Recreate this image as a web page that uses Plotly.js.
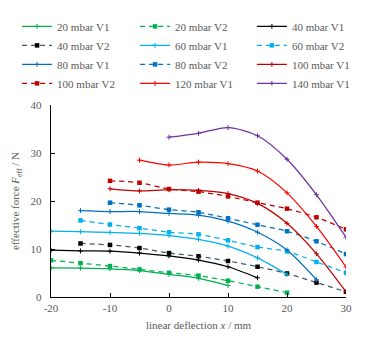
<!DOCTYPE html>
<html>
<head>
<meta charset="utf-8">
<script src="https://cdn.plot.ly/plotly-3.0.1.min.js"></script>
<style>html,body{margin:0;padding:0;background:#fff;}#chart{width:371px;height:339px;}</style>
</head>
<body>
<div id="chart"></div>
<script>
// x positions (linear deflection, mm)
const xFromM20to10 = [-20, -15, -10, -5, 0, 5, 10];
const xFromM20to20 = [-20, -15, -10, -5, 0, 5, 10, 15, 20];
const xFromM20to15 = [-20, -15, -10, -5, 0, 5, 10, 15];
const xFromM15to30 = [-15, -10, -5, 0, 5, 10, 15, 20, 25, 30];
const xFromM15to25 = [-15, -10, -5, 0, 5, 10, 15, 20, 25];
const xFromM10to30 = [-10, -5, 0, 5, 10, 15, 20, 25, 30];
const xFromM5to30 = [-5, 0, 5, 10, 15, 20, 25, 30];
const xFrom0to30 = [0, 5, 10, 15, 20, 25, 30];

// effective force values (N)
const f20V1 = [6.05, 6.0, 5.85, 5.5, 4.7, 3.9, 2.4];
const f20V2 = [7.65, 7.05, 6.45, 5.75, 5.05, 4.45, 3.4, 2.15, 0.9];
const f40V1 = [9.75, 9.6, 9.55, 9.15, 8.55, 7.7, 6.3, 4.0];
const f40V2 = [11.15, 10.85, 10.2, 9.15, 8.5, 7.5, 6.3, 4.9, 3.0, 1.1];
const f60V1 = [13.7, 13.6, 13.45, 13.25, 12.8, 12.0, 10.6, 8.15, 4.7];
const f60V2 = [15.95, 15.1, 14.35, 13.5, 13.05, 11.8, 10.4, 9.5, 7.3, 5.05];
const f80V1 = [18.0, 17.8, 17.8, 17.4, 17.05, 15.8, 13.5, 9.8, 3.6];
const f80V2 = [19.65, 19.1, 18.2, 17.65, 16.4, 15.05, 13.7, 11.6, 8.95];
const f100V1 = [22.55, 22.1, 22.35, 22.2, 21.55, 19.5, 15.35, 9.0, 1.1];
const f100V2 = [24.2, 23.8, 22.5, 21.95, 20.95, 19.65, 18.4, 16.6, 14.1];
const f120V1 = [28.5, 27.5, 28.1, 27.8, 26.25, 21.7, 14.7, 6.25];
const f140V1 = [33.3, 34.1, 35.3, 33.6, 28.7, 21.3, 12.45];

const names = ['20 mbar V1', '20 mbar V2', '40 mbar V1', '40 mbar V2', '60 mbar V1', '60 mbar V2',
  '80 mbar V1', '80 mbar V2', '100 mbar V1', '100 mbar V2', '120 mbar V1', '140 mbar V1'];

const xTickVals = [-20, -10, 0, 10, 20, 30];
const xTickText = ['-20', '-10', '0', '10', '20', '30'];
const yTickVals = [0, 10, 20, 30, 40];
const yTickText = ['0', '10', '20', '30', '40'];

const DASH = '5px,4px';
// legend column of each entry (row-major, three columns)
function legendOf(i) { const c = i % 3; return c === 0 ? 'legend' : (c === 1 ? 'legend2' : 'legend3'); }
function v1(i, x, y, color) {
  return {x: x, y: y, name: names[i], legend: legendOf(i), legendgroup: 'g' + i,
    type: 'scatter', mode: 'lines+markers',
    line: {color: color, width: 1.25, shape: 'spline', smoothing: 0.8},
    marker: {symbol: 'cross-thin', size: 3.5, line: {color: color, width: 1}, color: color}};
}
function v2(i, x, y, color, mcolor) {
  return {x: x, y: y, name: names[i], legend: legendOf(i), legendgroup: 'g' + i,
    type: 'scatter', mode: 'lines+markers',
    line: {color: color, width: 1.25, dash: DASH, shape: 'spline', smoothing: 0.8},
    marker: {symbol: 'square', size: 4.5, color: mcolor || color}};
}

const data = [
  v1(0, xFromM20to10, f20V1, '#00B050'),
  v2(1, xFromM20to20, f20V2, '#00B050'),
  v1(2, xFromM20to15, f40V1, '#000000'),
  v2(3, xFromM15to30, f40V2, '#44546A', '#000000'),
  v1(4, xFromM20to20, f60V1, '#00B0F0'),
  v2(5, xFromM15to30, f60V2, '#00B0F0'),
  v1(6, xFromM15to25, f80V1, '#0070C0'),
  v2(7, xFromM10to30, f80V2, '#0070C0'),
  v1(8, xFromM10to30, f100V1, '#C00000'),
  v2(9, xFromM10to30, f100V2, '#C00000'),
  v1(10, xFromM5to30, f120V1, '#FF0000'),
  v1(11, xFrom0to30, f140V1, '#7030A0')
];

const FONT = '"Liberation Serif", serif';
function legendAt(xp) {
  return {orientation: 'v', xref: 'paper', yref: 'paper', x: xp, y: 1.485,
    xanchor: 'left', yanchor: 'top', tracegroupgap: 0, itemwidth: 30,
    font: {family: FONT, size: 11, color: '#595959'}, bgcolor: 'rgba(0,0,0,0)'};
}
const layout = {
  width: 371, height: 339,
  margin: {l: 51, r: 25, t: 103, b: 42, pad: 0},
  paper_bgcolor: '#ffffff', plot_bgcolor: '#ffffff',
  font: {family: FONT, size: 11, color: '#595959'},
  showlegend: true,
  legend: legendAt(-0.115),
  legend2: legendAt(0.285),
  legend3: legendAt(0.681),
  xaxis: {range: [-20, 30], tickvals: xTickVals, ticktext: xTickText, showgrid: false, zeroline: false,
    showline: true, linecolor: '#000000', linewidth: 1.3, ticks: 'inside', ticklen: 4, tickcolor: '#000000',
    tickfont: {family: FONT, size: 11, color: '#595959'},
    title: {text: 'linear deflection <i>x</i> / mm', font: {family: FONT, size: 11, color: '#595959'}, standoff: 8}},
  yaxis: {range: [0, 40], tickvals: yTickVals, ticktext: yTickText, showgrid: false, zeroline: false,
    showline: true, linecolor: '#000000', linewidth: 1.3, ticks: 'inside', ticklen: 4, tickcolor: '#000000',
    ticklabelstandoff: 6,
    tickfont: {family: FONT, size: 11, color: '#595959'},
    title: {text: 'effective force <i>F</i><sub>eff</sub> / N', font: {family: FONT, size: 11, color: '#595959'}, standoff: 8}}
};

Plotly.newPlot('chart', data, layout, {displayModeBar: false, staticPlot: true});
</script>
</body>
</html>
